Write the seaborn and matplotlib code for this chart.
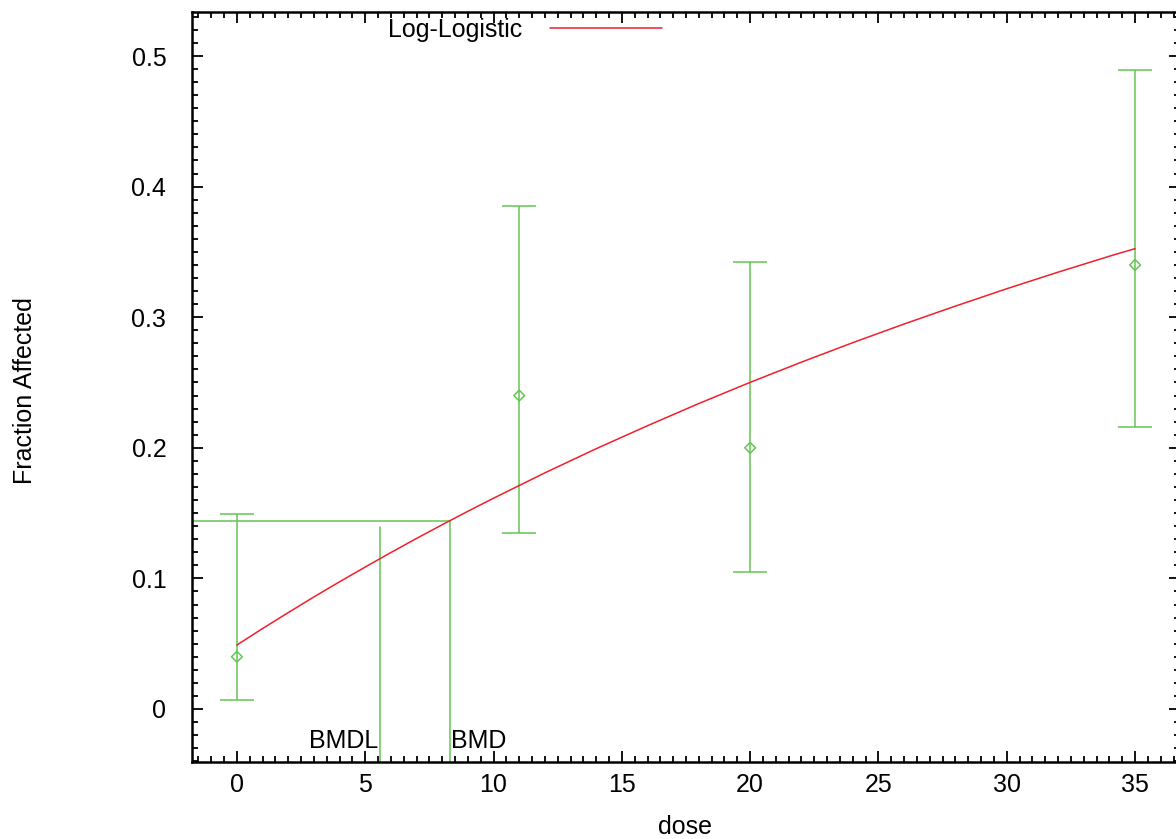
import numpy as np
import pandas as pd
import matplotlib
matplotlib.use("Agg")
import matplotlib.pyplot as plt
from matplotlib.ticker import MultipleLocator
import seaborn as sns

# observed data
dose = [0, 11, 20, 35]
frac = [0.04, 0.24, 0.20, 0.34]
err_lo = [0.007, 0.135, 0.105, 0.216]
err_hi = [0.149, 0.385, 0.342, 0.489]

# fitted Log-Logistic curve
curve_dose = [0, 1, 2, 3, 4, 5, 6, 7, 8, 9, 10, 12, 14, 16, 18, 20,
              22, 24, 26, 28, 30, 32, 34, 35]
curve_frac = [0.0490, 0.0616, 0.0738, 0.0858, 0.0974, 0.1087, 0.1198, 0.1306,
              0.1411, 0.1514, 0.1614, 0.1808, 0.1993, 0.2169, 0.2339, 0.2501,
              0.2656, 0.2805, 0.2948, 0.3085, 0.3218, 0.3345, 0.3467, 0.3525]

bmd = 8.3
bmdl = 5.57
bmr_level = 0.144
bmdl_top = 0.139

xticks = [0, 5, 10, 15, 20, 25, 30, 35]
yticks = [0, 0.1, 0.2, 0.3, 0.4, 0.5]
ytick_labels = ["0", "0.1", "0.2", "0.3", "0.4", "0.5"]

GREEN = "#66c455"
RED = "#f0202a"
FS = 18

sns.set_theme(style="ticks")
plt.rcParams["font.family"] = ["Liberation Sans", "DejaVu Sans"]
plt.rcParams["font.size"] = FS
for k in ["text.color", "axes.labelcolor", "xtick.color", "ytick.color",
          "xtick.labelcolor", "ytick.labelcolor", "axes.edgecolor"]:
    plt.rcParams[k] = "black"

fig = plt.figure(figsize=(11.76, 8.39), dpi=100)
W, H = 1176, 839
ax = fig.add_axes([192 / W, (H - 762) / H, (1180 - 192) / W, (762 - 12) / H])

xmin, xmax = -1.75, 36.75
ymin, ymax = -0.0406, 0.5337

df_pts = pd.DataFrame({"dose": dose, "frac": frac})
df_curve = pd.DataFrame({"dose": curve_dose, "frac": curve_frac})

# error bars
lo = np.array(frac) - np.array(err_lo)
hi = np.array(err_hi) - np.array(frac)
ax.errorbar(dose, frac, yerr=[lo, hi], fmt="none", ecolor=GREEN, elinewidth=1.1,
            capsize=12, capthick=1.1, zorder=2)
sns.scatterplot(data=df_pts, x="dose", y="frac", marker="D", s=30,
                facecolor="none", edgecolor=GREEN, linewidth=1.1, ax=ax, zorder=3)

# curve
sns.lineplot(data=df_curve, x="dose", y="frac", color=RED, linewidth=1.1, ax=ax,
             label="Log-Logistic", zorder=4)

# BMD / BMDL lines
ax.plot([xmin, bmd], [bmr_level, bmr_level], color=GREEN, lw=1.1, zorder=2)
ax.plot([bmd, bmd], [ymin, bmr_level], color=GREEN, lw=1.1, zorder=2)
ax.plot([bmdl, bmdl], [ymin, bmdl_top], color=GREEN, lw=1.1, zorder=2)
ax.text(bmdl - 0.05, -0.0245, "BMDL", ha="right", va="center", fontsize=FS,
        color="black")
ax.text(bmd + 0.03, -0.0245, "BMD", ha="left", va="center", fontsize=FS,
        color="black")

ax.set_xlim(xmin, xmax)
ax.set_ylim(ymin, ymax)
ax.set_xticks(xticks)
ax.set_yticks(yticks)
ax.set_xticklabels([str(t) for t in xticks])
ax.set_yticklabels(ytick_labels)
ax.xaxis.set_minor_locator(MultipleLocator(0.5))
ax.yaxis.set_minor_locator(MultipleLocator(0.01))
ax.tick_params(which="both", direction="in", top=True, right=True, color="black",
               labelcolor="black", width=1.3, labelsize=FS)
ax.tick_params(which="major", length=8)
ax.tick_params(which="minor", length=4.5)
ax.tick_params(axis="x", which="major", pad=8)
ax.tick_params(axis="y", which="major", pad=18.5)
for s in ax.spines.values():
    s.set_color("black")
    s.set_linewidth(1.8)

ax.set_xlabel("dose", fontsize=FS, color="black")
ax.set_ylabel("Fraction Affected", fontsize=FS, color="black")
ax.xaxis.set_label_coords(0.4990, -0.0707)
ax.yaxis.set_label_coords(-0.157, 0.4947)

leg = ax.legend(loc="upper left", bbox_to_anchor=(388 / W, (H - 18) / H),
                bbox_transform=fig.transFigure, frameon=False, markerfirst=False,
                handlelength=4.5, handletextpad=1.1, borderpad=0, borderaxespad=0,
                fontsize=FS)
for t in leg.get_texts():
    t.set_color("black")

fig.savefig("out.png", dpi=100)
